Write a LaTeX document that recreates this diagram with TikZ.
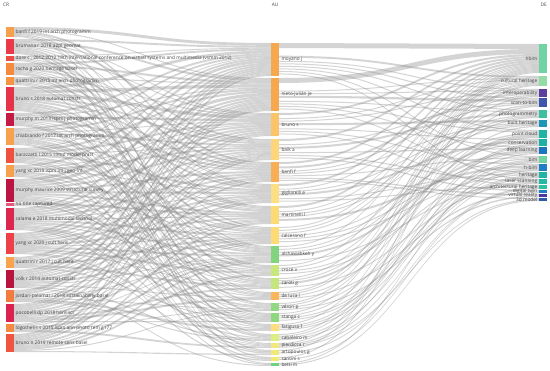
\documentclass[tikz,border=0pt]{standalone}
\usepackage{fontspec}
\setmainfont{Open Sans}
\usepackage{tikz}
\usetikzlibrary{positioning,backgrounds}
\definecolor{LabelGray}{RGB}{68,68,68}
\definecolor{FlowGray}{RGB}{135,135,135}

\newcommand\setv[2]{\expandafter\xdef\csname #1\endcsname{#2}}
\newcommand\getv[1]{\csname #1\endcsname}

% cited references -> authors
\def\crau{c1/a1/3, c1/a2/1, c1/a5/2, c1/a6/1, c1/a9/1, c1/a12/1, c1/a16/1,
 c2/a1/2, c2/a2/2, c2/a3/1, c2/a4/2, c2/a6/1, c2/a8/1, c2/a11/2, c2/a14/2, c2/a18/1, c2/a19/1,
 c3/a1/1, c3/a3/1, c3/a7/1, c3/a10/1, c3/a15/1,
 c4/a1/2, c4/a2/2, c4/a4/1, c4/a5/2, c4/a7/1, c4/a9/1, c4/a13/2, c4/a17/1,
 c5/a2/1, c5/a3/1, c5/a4/1, c5/a6/1, c5/a7/1, c5/a10/1, c5/a12/1, c5/a20/1,
 c6/a1/3, c6/a2/3, c6/a3/3, c6/a4/2, c6/a5/2, c6/a6/2, c6/a8/2, c6/a9/2, c6/a11/1, c6/a13/1, c6/a15/2, c6/a16/1,
 c7/a1/2, c7/a2/1, c7/a3/2, c7/a5/2, c7/a7/1, c7/a9/1, c7/a14/1, c7/a16/1, c7/a18/1,
 c8/a1/2, c8/a2/2, c8/a3/1, c8/a4/2, c8/a5/1, c8/a7/2, c8/a8/1, c8/a10/2, c8/a11/2, c8/a12/1, c8/a17/1, c8/a19/1,
 c9/a1/1, c9/a2/2, c9/a3/2, c9/a4/1, c9/a6/2, c9/a8/2, c9/a9/1, c9/a12/1, c9/a14/1, c9/a20/1,
 c10/a1/2, c10/a3/1, c10/a4/2, c10/a6/1, c10/a9/2, c10/a11/1, c10/a15/1, c10/a18/1,
 c11/a1/3, c11/a2/3, c11/a3/2, c11/a4/2, c11/a5/2, c11/a6/2, c11/a7/2, c11/a8/1, c11/a10/1, c11/a11/1, c11/a13/2, c11/a14/1, c11/a17/1,
 c12/a7/2, c12/a12/1,
 c13/a1/2, c13/a2/2, c13/a3/2, c13/a4/2, c13/a5/2, c13/a6/1, c13/a7/1, c13/a8/2, c13/a9/2, c13/a10/1, c13/a13/1, c13/a14/2, c13/a16/1, c13/a19/1,
 c14/a1/2, c14/a2/2, c14/a3/2, c14/a4/1, c14/a5/2, c14/a6/2, c14/a7/2, c14/a8/1, c14/a9/2, c14/a10/2, c14/a11/1, c14/a15/1, c14/a17/1,
 c15/a1/2, c15/a2/1, c15/a4/2, c15/a6/1, c15/a8/2, c15/a11/2, c15/a14/1,
 c16/a1/2, c16/a2/2, c16/a3/2, c16/a4/1, c16/a5/2, c16/a6/2, c16/a7/1, c16/a8/2, c16/a9/1, c16/a12/1, c16/a16/1, c16/a20/1,
 c17/a1/3, c17/a2/2, c17/a5/1, c17/a7/1, c17/a9/1, c17/a13/1, c17/a15/2, c17/a16/1,
 c18/a1/1, c18/a2/2, c18/a3/2, c18/a4/2, c18/a6/2, c18/a7/1, c18/a8/2, c18/a9/1, c18/a11/2, c18/a12/2, c18/a14/1,
 c19/a2/1, c19/a4/1, c19/a6/1, c19/a9/2, c19/a13/1, c19/a17/2,
 c20/a1/2, c20/a2/2, c20/a3/1, c20/a4/2, c20/a5/2, c20/a7/2, c20/a8/1, c20/a9/2, c20/a10/2, c20/a13/1, c20/a18/1}

% authors -> keywords
\def\aude{a1/d1/5, a1/d2/2, a1/d3/1, a1/d4/1, a1/d5/1, a1/d7/1, a1/d10/1, a1/d13/1,
 a2/d1/5, a2/d2/1, a2/d3/1, a2/d4/2, a2/d5/1, a2/d7/1, a2/d9/1, a2/d12/1,
 a3/d1/2, a3/d2/1, a3/d3/1, a3/d6/2, a3/d8/1, a3/d11/1, a3/d14/1,
 a4/d1/2, a4/d4/1, a4/d5/2, a4/d9/1, a4/d13/1, a4/d15/1,
 a5/d1/2, a5/d3/2, a5/d4/1, a5/d6/1, a5/d10/1, a5/d16/1, a5/d17/1,
 a6/d1/2, a6/d2/1, a6/d6/1, a6/d8/2, a6/d12/1, a6/d14/1,
 a7/d1/2, a7/d2/1, a7/d5/1, a7/d6/1, a7/d11/2,
 a8/d1/1, a8/d2/1, a8/d3/1, a8/d8/1, a8/d10/1, a8/d12/1,
 a9/d1/1, a9/d5/1, a9/d7/1, a9/d9/2, a9/d13/1,
 a10/d1/1, a10/d4/1, a10/d9/1, a10/d11/1,
 a11/d2/1, a11/d5/1, a11/d7/2, a11/d13/1,
 a12/d1/1, a12/d2/1, a12/d7/1, a12/d15/1,
 a13/d1/1, a13/d3/1, a13/d10/1, a13/d16/1,
 a14/d1/1, a14/d6/1, a14/d11/1, a14/d12/1,
 a15/d1/1, a15/d8/1, a15/d10/1, a15/d12/1,
 a16/d1/1, a16/d4/1, a16/d8/1, a16/d11/1,
 a17/d2/1, a17/d9/1, a17/d12/1, a17/d17/1,
 a18/d1/1, a18/d14/1,
 a19/d2/1, a19/d14/1,
 a20/d10/1, a20/d17/1}

\begin{document}
\begin{tikzpicture}[x=0.5mm,y=-0.5mm,
  bar/.style={inner sep=0pt, outer sep=0pt, minimum width=4mm, anchor=north west},
  barlabel/.style={font=\fontsize{6.8}{7}\selectfont, text=LabelGray, inner sep=0pt},
  head/.style={font=\fontsize{6.8}{7}\selectfont, text=LabelGray, inner sep=0pt},
  flow/.style={fill=FlowGray, fill opacity=0.36}
]
\useasboundingbox (0,0) rectangle (550,371);

\node[head, anchor=west] (crhead) at (3,5) {CR};
\node[head] (auhead) at (275,5) {AU};
\node[head, anchor=east] (dehead) at (547,5) {DE};

% CR column
\foreach \nm/\ytop/\ybot/\col/\lab in {
  c1/27/37/F5A04B/{banfi f 2019 int arch photogramm},
  c2/39/54/EA3A4A/{brumana r 2018 appl geomat},
  c3/56/61/EC4A45/{dore c , 2012 2012 18th international conference on virtual systems and multimedia (vsmm 2012)},
  c4/63/75/F58A3E/{rocha g 2020 heritage basel},
  c5/77/85/F7943F/{quattrini r 2015 int arch photogramm},
  c6/87/111/E5344A/{bruno s 2018 automat constr},
  c7/113/126/C41A45/{murphy m 2013 isprs j photogramm},
  c8/128/145/F7A04E/{chiabrando f 2017 int arch photogramm},
  c9/148/163/F0503F/{barazzetti l 2015 simul model pract},
  c10/165/177/F8A04E/{yang xc 2019 isprs int j geo-inf},
  c11/179/202/BB1443/{murphy maurice 2009 structural survey},
  c12/203/206/E8577A/{no title captured},
  c13/208/230/DC2650/{zalama e 2018 multimodal technol},
  c14/233/254/EE4048/{yang xc 2020 j cult herit},
  c15/257/268/F9A34F/{quattrini r 2017 j cult herit},
  c16/270/288/B8143F/{volk r 2014 automat constr},
  c17/290/302/F47B3E/{jordan-palomar i 2018 sustainability basel},
  c18/304/322/DC2250/{pocobelli dp 2018 herit sci},
  c19/324/332/F68A42/{logothetis s 2015 isprs ann photo rem g177},
  c20/334/352/F0553F/{bruno n 2019 remote sens basel}}{
  \edef\tmp{\noexpand\definecolor{barcol}{HTML}{\col}}\tmp
  \node[bar, fill=barcol, minimum height=(\ybot-\ytop)*0.5mm] (\nm) at (6,\ytop) {};
  \node[barlabel, anchor=west, right=0.8mm of \nm] (l\nm) {\lab};
  \pgfmathsetmacro\tmp{\ybot-\ytop}\setv{h@\nm}{\tmp}
  \setv{out@\nm}{0}\setv{in@\nm}{0}\setv{po@\nm}{0}\setv{pi@\nm}{0}
}

% AU column
\foreach \nm/\ytop/\ybot/\col/\lab in {
  a1/43/76/F6A84E/{moyano j},
  a2/78/111/F6A84E/{nieto-julián je},
  a3/113/136/FBC468/{bruno s},
  a4/139/160/FDD67C/{baik a},
  a5/162/182/F8AE55/{banfi f},
  a6/184/203/FDDF83/{gigliarelli e},
  a7/206/224/FCDA74/{martinelli l},
  a8/227/244/FDDC78/{calcerano f},
  a9/246/263/82D57F/{alshawabkeh y},
  a10/265/276/C8E87E/{croce v},
  a11/278/289/C4E67C/{caroti g},
  a12/292/300/F9B65C/{de luca l},
  a13/303/311/92D884/{véron p},
  a14/313/322/8ED680/{stanga c},
  a15/324/331/FDDE7C/{fatiguso f},
  a16/334/341/DDEE84/{cabaleiro m},
  a17/343/348/F2E97C/{pierdicca r},
  a18/350/355/EEEA78/{artopoulos g},
  a19/357/361/F0EA72/{santini s},
  a20/363/366/6ED27E/{betti m}}{
  \edef\tmp{\noexpand\definecolor{barcol}{HTML}{\col}}\tmp
  \node[bar, fill=barcol, minimum height=(\ybot-\ytop)*0.5mm] (\nm) at (271,\ytop) {};
  \node[barlabel, anchor=west, right=1.2mm of \nm] (l\nm) {\lab};
  \pgfmathsetmacro\tmp{\ybot-\ytop}\setv{h@\nm}{\tmp}
  \setv{out@\nm}{0}\setv{in@\nm}{0}\setv{po@\nm}{0}\setv{pi@\nm}{0}
}

% DE column
\foreach \nm/\ytop/\ybot/\col/\lab in {
  d1/44/73/6FD3A2/{hbim},
  d2/76/86/93DCA6/{cultural heritage},
  d3/89/97/5B3E9E/{interoperability},
  d4/98/107/3E56AD/{scan-to-bim},
  d5/110/118/3DC0A0/{photogrammetry},
  d6/120/127/1C95B9/{built heritage},
  d7/130/138/20B4A6/{point cloud},
  d8/139/146/1EB0A6/{conservation},
  d9/147/154/1C74C2/{deep learning},
  d10/156/163/72D5A0/{bim},
  d11/164/171/1F7EC6/{h-bim},
  d12/172/178/22B3A7/{heritage},
  d13/179/184/26B8A7/{laser scanning},
  d14/185/189/2EC09F/{architectural heritage},
  d15/190/193/1F80C8/{digital twin},
  d16/194/197/4A3A9C/{virtual reality},
  d17/198/201/2B5BA9/{3d model}}{
  \edef\tmp{\noexpand\definecolor{barcol}{HTML}{\col}}\tmp
  \node[bar, fill=barcol, minimum height=(\ybot-\ytop)*0.5mm] (\nm) at (539,\ytop) {};
  \node[barlabel, anchor=east, left=0.8mm of \nm] (l\nm) {\lab};
  \pgfmathsetmacro\tmp{\ybot-\ytop}\setv{h@\nm}{\tmp}
  \setv{out@\nm}{0}\setv{in@\nm}{0}\setv{po@\nm}{0}\setv{pi@\nm}{0}
}

% totals per node
\foreach \src/\dst/\w in \crau {
  \edef\vo{\getv{out@\src}}\pgfmathsetmacro\tmp{\vo+\w}\setv{out@\src}{\tmp}
  \edef\vi{\getv{in@\dst}}\pgfmathsetmacro\tmp{\vi+\w}\setv{in@\dst}{\tmp}
}
\foreach \src/\dst/\w in \aude {
  \edef\vo{\getv{out@\src}}\pgfmathsetmacro\tmp{\vo+\w}\setv{out@\src}{\tmp}
  \edef\vi{\getv{in@\dst}}\pgfmathsetmacro\tmp{\vi+\w}\setv{in@\dst}{\tmp}
}

\begin{scope}[on background layer]
% CR -> AU bands
\foreach \src/\dst/\w in \crau {
  \edef\po{\getv{po@\src}}\edef\so{\getv{out@\src}}\edef\hs{\getv{h@\src}}
  \edef\qi{\getv{pi@\dst}}\edef\qs{\getv{in@\dst}}\edef\hd{\getv{h@\dst}}
  \pgfmathsetmacro\ya{\po/\so*\hs}
  \pgfmathsetmacro\yb{(\po+\w)/\so*\hs}
  \pgfmathsetmacro\yc{\qi/\qs*\hd}
  \pgfmathsetmacro\yd{(\qi+\w)/\qs*\hd}
  \pgfmathsetmacro\tmp{\po+\w}\setv{po@\src}{\tmp}
  \pgfmathsetmacro\tmp{\qi+\w}\setv{pi@\dst}{\tmp}
  \fill[flow] ([yshift=-\ya*0.5mm]\src.north east)
    .. controls +(64.5mm,0) and +(-64.5mm,0) .. ([yshift=-\yc*0.5mm]\dst.north west)
    -- ([yshift=-\yd*0.5mm]\dst.north west)
    .. controls +(-64.5mm,0) and +(64.5mm,0) .. ([yshift=-\yb*0.5mm]\src.north east) -- cycle;
}
% AU -> DE bands
\foreach \src/\dst/\w in \aude {
  \edef\po{\getv{po@\src}}\edef\so{\getv{out@\src}}\edef\hs{\getv{h@\src}}
  \edef\qi{\getv{pi@\dst}}\edef\qs{\getv{in@\dst}}\edef\hd{\getv{h@\dst}}
  \pgfmathsetmacro\ya{\po/\so*\hs}
  \pgfmathsetmacro\yb{\ya+min(\w,\w/\so*\hs)}
  \pgfmathsetmacro\yc{\qi/\qs*\hd}
  \pgfmathsetmacro\yd{(\qi+\w)/\qs*\hd}
  \pgfmathsetmacro\tmp{\po+\w}\setv{po@\src}{\tmp}
  \pgfmathsetmacro\tmp{\qi+\w}\setv{pi@\dst}{\tmp}
  \fill[flow] ([yshift=-\ya*0.5mm]\src.north east)
    .. controls +(65mm,0) and +(-65mm,0) .. ([yshift=-\yc*0.5mm]\dst.north west)
    -- ([yshift=-\yd*0.5mm]\dst.north west)
    .. controls +(-65mm,0) and +(65mm,0) .. ([yshift=-\yb*0.5mm]\src.north east) -- cycle;
}
\end{scope}
\end{tikzpicture}
\end{document}
